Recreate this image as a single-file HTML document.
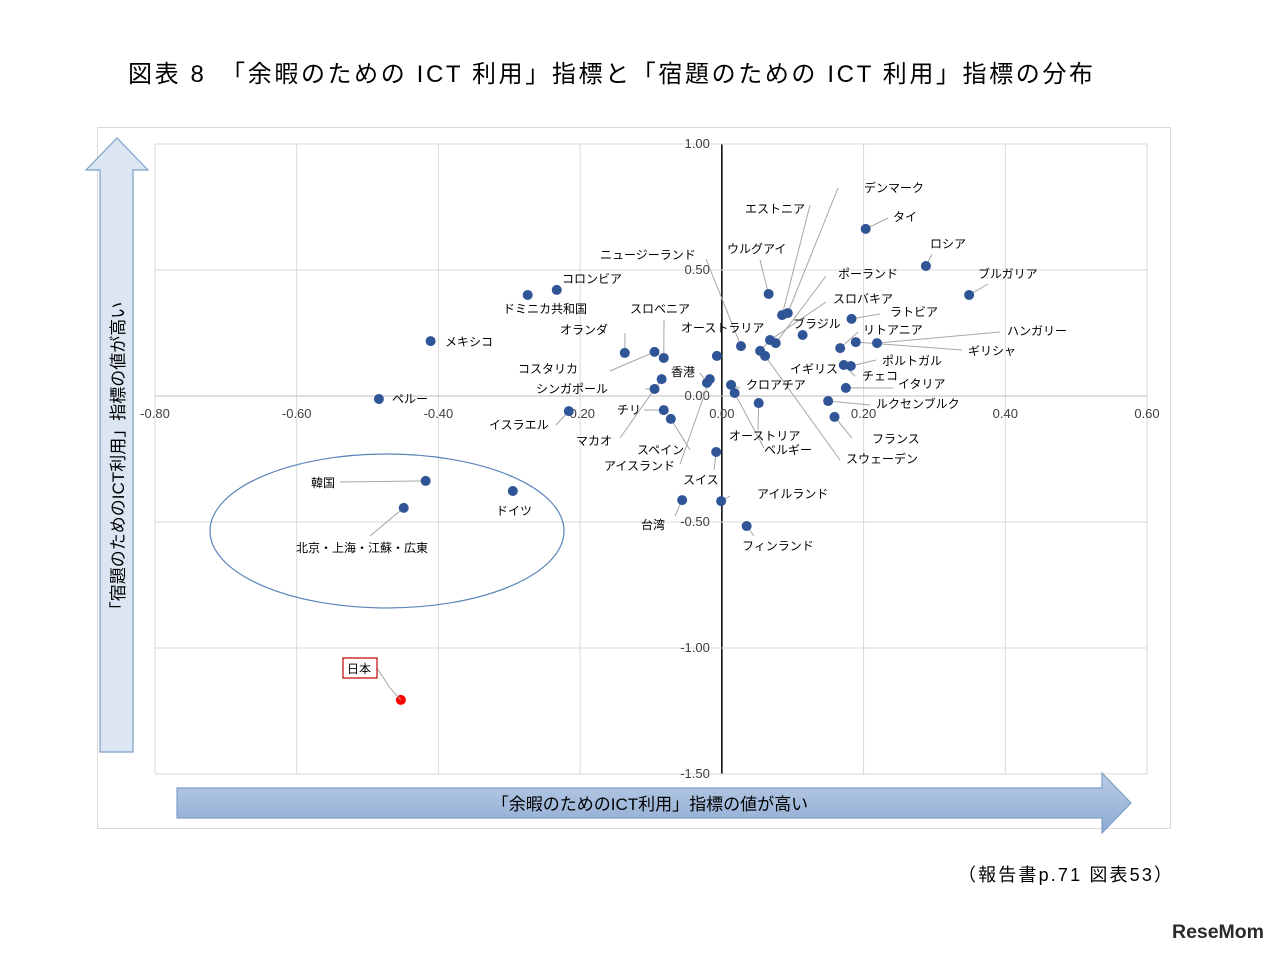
<!DOCTYPE html>
<html><head><meta charset="utf-8">
<style>
body{margin:0;background:#fff;width:1280px;height:951px;overflow:hidden;font-family:"Liberation Sans","Noto Sans CJK JP",sans-serif;}
</style></head>
<body>
<svg id="chart" width="1280" height="951" xmlns="http://www.w3.org/2000/svg" style="font-family:'Liberation Sans','Noto Sans CJK JP',sans-serif">
<text x="128" y="82" font-size="24" fill="#000" textLength="965" lengthAdjust="spacing">図表 8　「余暇のための ICT 利用」指標と「宿題のための ICT 利用」指標の分布</text>
<rect x="97.5" y="127.5" width="1073" height="701" fill="#fff" stroke="#d9d9d9"/>
<g id="grid"></g>
<polygon points="100,170 86,170 117,138 148,170 133,170 133,752 100,752" fill="#dce6f2" stroke="#7f9fc8" stroke-width="1.2"/>
<text transform="translate(124,460) rotate(-90)" text-anchor="middle" font-size="17" fill="#000">「宿題のためのICT利用」指標の値が高い</text>
<defs><linearGradient id="hg" x1="0" y1="0" x2="0" y2="1"><stop offset="0" stop-color="#b9cde5"/><stop offset="1" stop-color="#8eaad3"/></linearGradient></defs>
<polygon points="177,788 1102,788 1102,773 1131,803 1102,833 1102,818 177,818" fill="url(#hg)" stroke="#7f9fc8" stroke-width="1.2"/>
<text x="650" y="810" text-anchor="middle" font-size="17" fill="#000">「余暇のためのICT利用」指標の値が高い</text>
<ellipse cx="387" cy="531" rx="177" ry="77" fill="none" stroke="#5b84b9" stroke-width="1.2"/>
<g id="marks"></g>
<text x="958" y="881" font-size="18" fill="#000" textLength="214" lengthAdjust="spacing">（報告書p.71  図表53）</text>
<text x="1172" y="938" font-size="19" font-weight="bold" fill="#2b2b2b" textLength="92" lengthAdjust="spacingAndGlyphs">ReseMom</text>
</svg>
<script>
const xTicks=[-0.8,-0.6,-0.4,-0.2,0,0.2,0.4,0.6];
const xTickLabels=["-0.80","-0.60","-0.40","-0.20","0.00","0.20","0.40","0.60"];
const yTicks=[1,0.5,0,-0.5,-1,-1.5];
const yTickLabels=["1.00","0.50","0.00","-0.50","-1.00","-1.50"];
const xVals=[0.203,0.288,0.349,0.066,0.085,0.093,0.183,0.114,0.068,0.076,0.054,0.061,0.027,-0.007,0.167,0.189,0.219,0.172,0.182,0.175,0.150,0.159,0.052,0.013,0.018,-0.021,-0.017,-0.085,-0.095,-0.095,-0.082,-0.137,-0.233,-0.274,-0.411,-0.484,-0.216,-0.082,-0.072,-0.008,-0.056,-0.001,0.035,-0.418,-0.295,-0.449,-0.453];
const yVals=[0.663,0.516,0.401,0.405,0.321,0.329,0.306,0.242,0.222,0.210,0.179,0.159,0.198,0.159,0.190,0.214,0.210,0.123,0.119,0.032,-0.020,-0.083,-0.028,0.044,0.012,0.052,0.067,0.067,0.028,0.175,0.151,0.171,0.421,0.401,0.218,-0.012,-0.060,-0.056,-0.091,-0.222,-0.413,-0.417,-0.516,-0.337,-0.377,-0.444,-1.206];
const labels=[
["タイ",893,221,888,218,0],["ロシア",930,248,932,254,1],["ブルガリア",978,278,988,284,2],
["ウルグアイ",727,253,760,260,3],["エストニア",745,213,810,205,4],["デンマーク",864,192,838,188,5],
["ラトビア",890,316,880,314,6],["ブラジル",793,328,-1,0,-1],["スロバキア",833,303,826,302,8],
["ポーランド",838,278,826,276,9],["オーストラリア",681,332,772,338,10],["ニュージーランド",600,259,706,259,12],
["リトアニア",863,334,858,332,14],["ギリシャ",968,355,962,350,15],["ハンガリー",1007,335,1000,332,16],
["イギリス",790,373,-1,0,-1],["ポルトガル",882,365,876,360,18],["チェコ",862,380,855,376,17],
["イタリア",898,388,893,388,19],["ルクセンブルク",876,408,870,405,20],["フランス",872,443,852,438,21],
["オーストリア",729,440,758,430,22],["クロアチア",746,389,740,388,23],["ベルギー",764,454,764,448,24],
["スウェーデン",846,463,840,460,11],["香港",671,376,700,373,25],["シンガポール",536,393,645,389,28],
["コスタリカ",518,373,610,371,29],["オランダ",560,334,625,333,31],["スロベニア",630,313,664,320,30],
["コロンビア",562,283,-1,0,-1],["ドミニカ共和国",503,313,-1,0,-1],["メキシコ",445,346,-1,0,-1],
["ペルー",392,403,-1,0,-1],["イスラエル",489,429,556,425,36],["チリ",617,414,644,410,37],
["マカオ",576,445,620,438,27],["スペイン",637,454,690,450,38],["アイスランド",604,470,680,464,26],
["スイス",683,484,714,470,39],["台湾",641,529,675,516,40],["アイルランド",757,498,730,496,41],
["フィンランド",742,550,754,536,42],["韓国",311,487,340,482,43],["ドイツ",496,515,-1,0,-1],
["北京・上海・江蘇・広東",296,552,370,536,45]
];
const NS="http://www.w3.org/2000/svg";
const X0=155,X1=1147,Y0=144,Y1=774;
function sx(v){return X0+(v-(-0.8))/(1.4)*(X1-X0);}
function sy(v){return Y0+(1-v)/2.5*(Y1-Y0);}
function mk(tag,attrs,parent){const e=document.createElementNS(NS,tag);for(const k in attrs)e.setAttribute(k,attrs[k]);parent.appendChild(e);return e;}
const grid=document.getElementById('grid'),marks=document.getElementById('marks');
xTicks.forEach((t,i)=>{
 const l=mk('line',{x1:sx(t),x2:sx(t),y1:Y0,y2:Y1,stroke:t===0?'#000':'#d9d9d9','stroke-width':t===0?1.5:1},grid);
 
 
 const tx=mk('text',{x:sx(t),y:sy(0)+22,'text-anchor':'middle','font-size':13,fill:'#404040'},grid);
 tx.textContent=xTickLabels[i];
 
 
});
yTicks.forEach((t,i)=>{
 const l=mk('line',{x1:X0,x2:X1,y1:sy(t),y2:sy(t),stroke:t===0?'#bfbfbf':'#d9d9d9','stroke-width':1},grid);
 
 
 const tx=mk('text',{x:sx(0)-12,y:sy(t)+4,'text-anchor':'end','font-size':13,fill:'#404040'},grid);
 tx.textContent=yTickLabels[i];
 
 
});
labels.forEach(lb=>{
 if(lb[5]>=0){
  const ln=mk('line',{x1:lb[3],y1:lb[4],x2:sx(xVals[lb[5]]),y2:sy(yVals[lb[5]]),stroke:'#a6a6a6','stroke-width':1},marks);
  
  
 }
});
xVals.forEach((v,i)=>{
 const red=i===xVals.length-1;
 const c=mk('circle',{cx:sx(v),cy:sy(yVals[i]),r:5,fill:red?'#ff0000':'#2f5597'},marks);
 
 
});
labels.forEach(lb=>{
 const t=mk('text',{x:lb[1],y:lb[2],'font-size':12,fill:'#000'},marks);
 t.textContent=lb[0];
 
 
});
const jl=mk('polyline',{points:`377,668 390,688 ${sx(xVals[46])},${sy(yVals[46])}`,fill:'none',stroke:'#a6a6a6'},marks);


const jb=mk('rect',{x:343,y:658,width:34,height:20,fill:'#fff',stroke:'#c00000','stroke-width':1.2},marks);


const jt=mk('text',{x:347,y:673,'font-size':12,fill:'#000'},marks);
jt.textContent='日本';


</script>
</body></html>
